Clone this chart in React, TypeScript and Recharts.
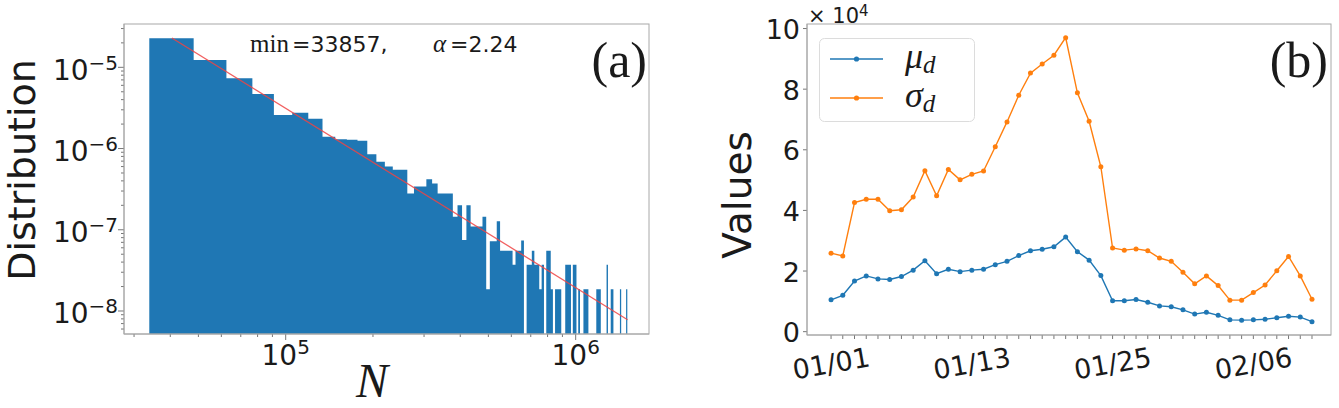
import React from 'react';
import { ComposedChart, LineChart, Line, Area, XAxis, YAxis, Legend } from 'recharts';

// ---------- Panel (a): histogram of N (log-log) ----------
const HIST_START = 33857;
const HIST_BIN_WIDTH = 14300;
const histDensity: number[] = [
  2.28e-5, 1.23e-5, 7.32e-6, 4.69e-6, 2.59e-6, 2.76e-6, 2.33e-6, 1.4e-6, 1.3e-6, 1.28e-6,
  1.25e-6, 8.5e-7, 6.9e-7, 6.0e-7, 5.5e-7, 5.5e-7, 2.8e-7, 3.4e-7, 3.4e-7, 4.2e-7,
  3.7e-7, 2.8e-7, 2.8e-7, 2.8e-7, 1.45e-7, 2.0e-7, 7.5e-8, 2.0e-7, 1.1e-7, 1.1e-7,
  1.1e-7, 1.45e-7, 1.85e-8, 7.2e-8, 7.2e-8, 1.27e-7, 5.5e-8, 5.5e-8, 5.5e-8, 5.5e-8,
  3.7e-8, 5.5e-8, 5.5e-8, 7.4e-8, 0, 3.7e-8, 3.7e-8, 5.5e-8, 3.7e-8, 3.7e-8,
  1.85e-8, 3.7e-8, 0, 5.5e-8, 5.5e-8, 1.85e-8, 0, 1.85e-8, 1.85e-8, 1.85e-8,
  0, 0, 3.7e-8, 3.7e-8, 3.7e-8, 0, 3.7e-8, 3.7e-8, 0, 1.85e-8,
  0, 0, 1.85e-8, 1.85e-8, 1.85e-8, 0, 0, 0, 0, 0,
  1.85e-8, 1.85e-8, 1.85e-8, 0, 0, 0, 0, 3.7e-8, 0, 0,
  1.85e-8, 1.85e-8, 0, 0, 0, 0, 0, 1.85e-8, 0, 0,
  0, 0, 1.85e-8,
];
const fitN = [40500, 1510000];
const fitP = [2.3e-5, 7.8e-9];
const X_DOMAIN_A: [number, number] = [27697, 1790000];
const Y_DOMAIN_A: [number, number] = [5.21e-9, 3.414e-5];
const xDecadesA = [1e4, 1e5, 1e6];
const yDecadesA = [1e-9, 1e-8, 1e-7, 1e-6, 1e-5];
const minorMultipliers = [1, 2, 3, 4, 5, 6, 7, 8, 9];
const annotationA = { minLabel: 'min', minValue: '=33857,', alphaLabel: 'α', alphaValue: '=2.24', panel: '(a)' };

// ---------- Panel (b): daily mu_d and sigma_d (x 10^4) ----------
const dates = [
  '01/01', '01/02', '01/03', '01/04', '01/05', '01/06', '01/07', '01/08', '01/09', '01/10',
  '01/11', '01/12', '01/13', '01/14', '01/15', '01/16', '01/17', '01/18', '01/19', '01/20',
  '01/21', '01/22', '01/23', '01/24', '01/25', '01/26', '01/27', '01/28', '01/29', '01/30',
  '01/31', '02/01', '02/02', '02/03', '02/04', '02/05', '02/06', '02/07', '02/08', '02/09',
  '02/10', '02/11',
];
const muD = [
  1.05, 1.2, 1.67, 1.84, 1.74, 1.72, 1.82, 2.03, 2.34, 1.91,
  2.06, 1.98, 2.03, 2.06, 2.21, 2.32, 2.51, 2.67, 2.72, 2.8,
  3.12, 2.64, 2.36, 1.85, 1.02, 1.02, 1.06, 0.97, 0.85, 0.82,
  0.72, 0.58, 0.64, 0.54, 0.39, 0.38, 0.39, 0.41, 0.46, 0.51,
  0.48, 0.33,
];
const sigmaD = [
  2.59, 2.5, 4.26, 4.37, 4.37, 3.99, 4.02, 4.44, 5.31, 4.48,
  5.35, 5.01, 5.19, 5.3, 6.1, 6.92, 7.8, 8.53, 8.83, 9.12,
  9.7, 7.88, 6.94, 5.44, 2.76, 2.69, 2.73, 2.67, 2.43, 2.32,
  1.96, 1.58, 1.84, 1.52, 1.04, 1.04, 1.29, 1.54, 2.01, 2.48,
  1.84, 1.07,
];
const labeledDates = ['01/01', '01/13', '01/25', '02/06'];
const yTicksB = [0, 2, 4, 6, 8, 10];
const Y_DOMAIN_B: [number, number] = [-0.11, 10.15];
const X_DOMAIN_B: [number, number] = [-2.05, 42.62];
const seriesNames = ['μd', 'σd'];
const offsetText = { base: '× 10', exp: '4' };

// ---------- styles ----------
const BLUE = '#1f77b4';
const ORANGE = '#ff7f0e';
const FRAME = '#a8a8a8';
const TICK = '#777';
const TEXT = '#1a1a1a';
const SANS = 'DejaVu Sans';
const SERIF = 'Liberation Serif';

// chart boxes (plot area = chart margins + axis sizes)
const A = { left: 0, width: 660, height: 408, top: 24, right: 11, yAxisW: 124, xAxisH: 74 };
const B = { left: 690, width: 649, height: 408, top: 24, right: 8, yAxisW: 117, xAxisH: 73 };
const plotBox = (c: typeof A) => ({
  x: c.left + c.yAxisW,
  y: c.top,
  w: c.width - c.yAxisW - c.right,
  h: c.height - c.top - c.xAxisH,
});

// ---------- derived tables ----------
const histPoints: { n: number; p: number | null }[] = [];
histDensity.forEach((p, k) => {
  const left = HIST_START + k * HIST_BIN_WIDTH;
  const right = left + HIST_BIN_WIDTH;
  if (p > 0) {
    histPoints.push({ n: left, p }, { n: right, p });
  } else {
    histPoints.push({ n: left + HIST_BIN_WIDTH / 2, p: null });
  }
});
const fitPoints = fitN.map((n, i) => ({ n, p: fitP[i] }));

const inDomain = (v: number, d: [number, number]) => v >= d[0] && v <= d[1];
const xTicksA = xDecadesA.flatMap((d) => minorMultipliers.map((m) => m * d)).filter((v) => inDomain(v, X_DOMAIN_A));
const yTicksA = yDecadesA.flatMap((d) => minorMultipliers.map((m) => m * d)).filter((v) => inDomain(v, Y_DOMAIN_A));
const isMajor = (v: number) => Math.abs(Math.log10(v) - Math.round(Math.log10(v))) < 1e-9;
const expText = (v: number) => String(Math.round(Math.log10(v))).replace('-', '−');

const dataB = dates.map((d, i) => ({ i, date: d, mu: muD[i], sigma: sigmaD[i] }));
const xTicksB = dates.map((_, i) => i);

// ---------- tick renderers ----------
const XTickA = (props: any) => {
  const { x, y, payload } = props;
  const v = payload.value;
  const major = isMajor(v);
  return (
    <g>
      <line x1={x} x2={x} y1={y} y2={y + (major ? 6 : 3)} stroke={TICK} strokeWidth={1} />
      {major && (
        <text x={x} y={y + 31} textAnchor="middle" fontFamily={SANS} fontSize={28} fill={TEXT}>
          10<tspan dy={-11} fontSize={20}>{expText(v)}</tspan>
        </text>
      )}
    </g>
  );
};

const YTickA = (props: any) => {
  const { x, y, payload } = props;
  const v = payload.value;
  const major = isMajor(v);
  return (
    <g>
      <line x1={x - (major ? 6 : 3)} x2={x} y1={y} y2={y} stroke={TICK} strokeWidth={1} />
      {major && (
        <text x={x - 6} y={y + 12.5} textAnchor="end" fontFamily={SANS} fontSize={28} fill={TEXT}>
          10<tspan dy={-10} fontSize={20}>{expText(v)}</tspan>
        </text>
      )}
    </g>
  );
};

const XTickB = (props: any) => {
  const { x, y, payload } = props;
  const label = dates[payload.value];
  const show = labeledDates.includes(label);
  return (
    <g>
      <line x1={x} x2={x} y1={y} y2={y + 4} stroke={TICK} strokeWidth={1} />
      {show && (
        <text
          x={x}
          y={y + 38}
          textAnchor="middle"
          fontFamily={SANS}
          fontSize={27}
          fill={TEXT}
          transform={`rotate(-10, ${x}, ${y + 28})`}
        >
          {label}
        </text>
      )}
    </g>
  );
};

const YTickB = (props: any) => {
  const { x, y, payload } = props;
  return (
    <g>
      <line x1={x - 4} x2={x} y1={y} y2={y} stroke={TICK} strokeWidth={1} />
      <text x={x - 7} y={y + 10.5} textAnchor="end" fontFamily={SANS} fontSize={27} fill={TEXT}>
        {payload.value}
      </text>
    </g>
  );
};

const LegendB = (props: any) => {
  const items = props.payload || [];
  return (
    <svg width={156} height={84} style={{ display: 'block', overflow: 'visible' }}>
      <rect x={0.5} y={0.5} width={155} height={83} rx={5} ry={5} fill="#fff" fillOpacity={0.8} stroke="#dcdcdc" />
      {items.map((it: any, idx: number) => {
        const ly = idx === 0 ? 21 : 60;
        const name = String(it.value);
        return (
          <g key={idx}>
            <line x1={11} x2={64} y1={ly} y2={ly} stroke={it.color} strokeWidth={1.4} />
            <circle cx={37.5} cy={ly} r={2.6} fill={it.color} />
            <text x={86} y={ly + 9} fontFamily={SERIF} fontStyle="italic" fontSize={36} fill={TEXT}>
              {name.slice(0, 1)}
              <tspan dy={5} fontSize={25}>{name.slice(1)}</tspan>
            </text>
          </g>
        );
      })}
    </svg>
  );
};

export default function App() {
  const pa = plotBox(A);
  const pb = plotBox(B);
  return (
    <div style={{ position: 'absolute', left: 0, top: 0, width: 1339, height: 408, background: '#fff', overflow: 'hidden' }}>
      <div style={{ position: 'absolute', left: A.left, top: 0 }}>
        <ComposedChart width={A.width} height={A.height} margin={{ top: A.top, right: A.right, bottom: 0, left: 0 }}>
          <XAxis
            dataKey="n"
            type="number"
            scale="log"
            domain={X_DOMAIN_A}
            allowDataOverflow
            ticks={xTicksA}
            interval={0}
            tick={<XTickA />}
            tickLine={false}
            tickSize={0}
            tickMargin={0}
            height={A.xAxisH}
            axisLine={{ stroke: FRAME }}
          />
          <YAxis
            type="number"
            scale="log"
            domain={Y_DOMAIN_A}
            allowDataOverflow
            ticks={yTicksA}
            interval={0}
            tick={<YTickA />}
            tickLine={false}
            tickSize={0}
            tickMargin={0}
            width={A.yAxisW}
            axisLine={{ stroke: FRAME }}
          />
          <Area
            data={histPoints}
            dataKey="p"
            type="linear"
            baseValue={Y_DOMAIN_A[0]}
            fill={BLUE}
            fillOpacity={1}
            stroke="none"
            isAnimationActive={false}
            dot={false}
            activeDot={false}
          />
          <Line
            data={fitPoints}
            dataKey="p"
            type="linear"
            stroke="#ee4444"
            strokeOpacity={0.85}
            strokeWidth={1.3}
            dot={false}
            activeDot={false}
            isAnimationActive={false}
          />
        </ComposedChart>
      </div>

      <div style={{ position: 'absolute', left: B.left, top: 0 }}>
        <LineChart width={B.width} height={B.height} data={dataB} margin={{ top: B.top, right: B.right, bottom: 0, left: 0 }}>
          <XAxis
            dataKey="i"
            type="number"
            domain={X_DOMAIN_B}
            allowDataOverflow
            ticks={xTicksB}
            interval={0}
            tick={<XTickB />}
            tickLine={false}
            tickSize={0}
            tickMargin={0}
            height={B.xAxisH}
            axisLine={{ stroke: FRAME }}
          />
          <YAxis
            type="number"
            domain={Y_DOMAIN_B}
            allowDataOverflow
            ticks={yTicksB}
            interval={0}
            tick={<YTickB />}
            tickLine={false}
            tickSize={0}
            tickMargin={0}
            width={B.yAxisW}
            axisLine={{ stroke: FRAME }}
          />
          <Line
            dataKey="mu"
            name={seriesNames[0]}
            stroke={BLUE}
            strokeWidth={1.4}
            dot={{ r: 2.5, fill: BLUE, stroke: BLUE, strokeWidth: 0 }}
            activeDot={false}
            isAnimationActive={false}
          />
          <Line
            dataKey="sigma"
            name={seriesNames[1]}
            stroke={ORANGE}
            strokeWidth={1.4}
            dot={{ r: 2.5, fill: ORANGE, stroke: ORANGE, strokeWidth: 0 }}
            activeDot={false}
            isAnimationActive={false}
          />
          <Legend
            layout="vertical"
            align="center"
            verticalAlign="middle"
            content={<LegendB />}
            wrapperStyle={{ position: 'absolute', left: 129, top: 38, width: 156, height: 84 }}
          />
        </LineChart>
      </div>

      <svg width={1339} height={408} style={{ position: 'absolute', left: 0, top: 0, pointerEvents: 'none', overflow: 'visible' }}>
        {/* plot frames */}
        <rect x={pa.x} y={pa.y} width={pa.w} height={pa.h} fill="none" stroke={FRAME} strokeWidth={1} />
        <rect x={pb.x} y={pb.y} width={pb.w} height={pb.h} fill="none" stroke={FRAME} strokeWidth={1} />

        {/* panel (a) annotations */}
        <text x={250} y={51.5} fontFamily={SERIF} fontSize={25} fill={TEXT}>{annotationA.minLabel}</text>
        <text x={292} y={51.5} fontFamily={SANS} fontSize={22} fill={TEXT}>{annotationA.minValue}</text>
        <text x={433} y={51.5} fontFamily={SERIF} fontStyle="italic" fontSize={25} fill={TEXT}>{annotationA.alphaLabel}</text>
        <text x={450} y={51.5} fontFamily={SANS} fontSize={22} fill={TEXT}>{annotationA.alphaValue}</text>
        <text x={647} y={77} textAnchor="end" fontFamily={SERIF} fontSize={50} fill={TEXT}>{annotationA.panel}</text>
        <text transform="translate(35,170) rotate(-90)" textAnchor="middle" fontFamily={SANS} fontSize={38} fill={TEXT}>Distribution</text>
        <text x={372} y={397} textAnchor="middle" fontFamily={SERIF} fontStyle="italic" fontSize={48} fill={TEXT}>N</text>

        {/* panel (b) annotations */}
        <text x={1328} y={77} textAnchor="end" fontFamily={SERIF} fontSize={50} fill={TEXT}>(b)</text>
        <text transform="translate(751,195) rotate(-90)" textAnchor="middle" fontFamily={SANS} fontSize={39} fill={TEXT}>Values</text>
        <text x={808} y={22.5} fontFamily={SANS} fontSize={21} fill={TEXT}>
          {offsetText.base}
          <tspan dy={-7} fontSize={15}>{offsetText.exp}</tspan>
        </text>
      </svg>
    </div>
  );
}
